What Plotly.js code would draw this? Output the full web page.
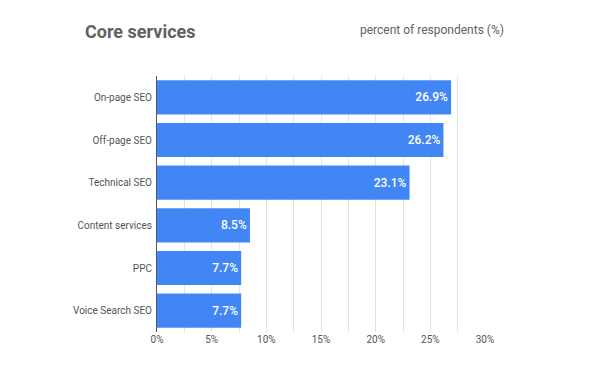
<!DOCTYPE html>
<html>
<head>
<meta charset="utf-8">
<script src="https://cdn.plot.ly/plotly-3.0.1.min.js"></script>
<style>html,body{margin:0;padding:0;background:#fff;}#chart{width:591px;height:370px;}</style>
</head>
<body>
<div id="chart"></div>
<script>
const categories = ["On-page SEO", "Off-page SEO", "Technical SEO", "Content services", "PPC", "Voice Search SEO"];
const values = [26.9, 26.2, 23.1, 8.5, 7.7, 7.7];
const tickValues = [0, 5, 10, 15, 20, 25, 30];
const tickLabels = ["0%", "5%", "10%", "15%", "20%", "25%", "30%"];

const trace = {
  type: "bar",
  orientation: "h",
  y: categories,
  x: values,
  marker: {color: "#4285F4"},
  text: values.map(v => v.toFixed(1) + "%"),
  textposition: "inside",
  insidetextanchor: "end",
  textfont: {family: "Roboto", size: 12, color: "#ffffff", weight: 500},
  hoverinfo: "none",
  cliponaxis: false
};

const layout = {
  width: 591, height: 370,
  margin: {l: 157, r: 106, t: 76, b: 38, pad: 0},
  paper_bgcolor: "#ffffff", plot_bgcolor: "#ffffff",
  font: {family: "Roboto", color: "#555555"},
  bargap: 0.2,
  showlegend: false,
  xaxis: {
    range: [0, 30],
    tickvals: tickValues,
    ticktext: tickLabels,
    showgrid: true, gridcolor: "#e3e3e3", gridwidth: 1,
    minor: {dtick: 2.5, showgrid: true, gridcolor: "#e3e3e3", gridwidth: 1},
    zeroline: false, showline: false,
    ticks: "", tickfont: {size: 10, color: "#555555"},
    fixedrange: true
  },
  yaxis: {
    autorange: "reversed",
    showline: true, linecolor: "#555555", linewidth: 1,
    showgrid: false, zeroline: false,
    ticks: "", ticklabelstandoff: 2,
    tickfont: {size: 10, color: "#555555"},
    fixedrange: true
  },
  annotations: [
    {text: "Core services", xref: "paper", yref: "paper", x: -0.226, y: 1.172, xanchor: "left", yanchor: "middle",
     showarrow: false, font: {family: "Roboto", size: 18, color: "#616161", weight: "bold"}},
    {text: "percent of respondents (%)", xref: "paper", yref: "paper", x: 1.064, y: 1.18, xanchor: "right", yanchor: "middle",
     showarrow: false, font: {family: "Roboto", size: 12, color: "#616161"}}
  ]
};

Plotly.newPlot("chart", [trace], layout, {displayModeBar: false, staticPlot: true});
</script>
</body>
</html>
